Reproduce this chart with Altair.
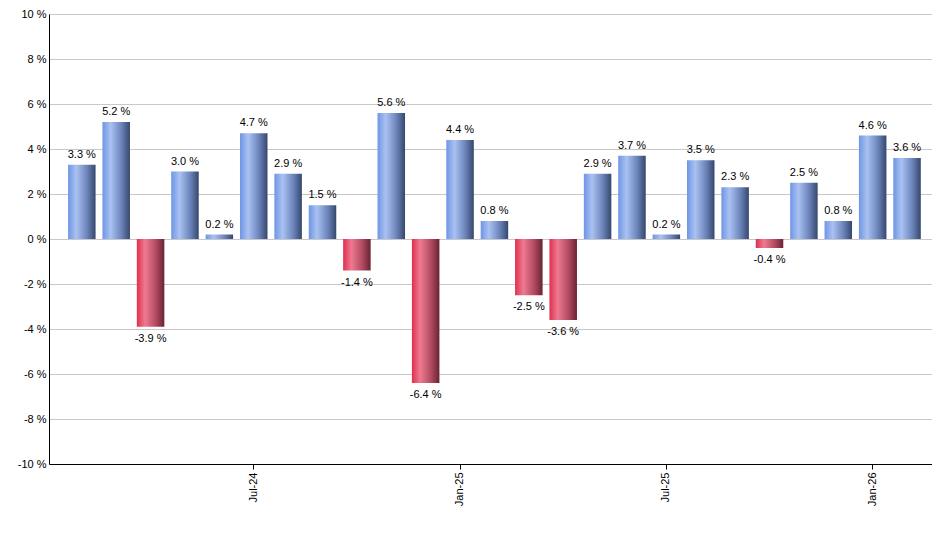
import pandas as pd
import altair as alt

months = ['Feb-24', 'Mar-24', 'Apr-24', 'May-24', 'Jun-24', 'Jul-24', 'Aug-24',
          'Sep-24', 'Oct-24', 'Nov-24', 'Dec-24', 'Jan-25', 'Feb-25', 'Mar-25',
          'Apr-25', 'May-25', 'Jun-25', 'Jul-25', 'Aug-25', 'Sep-25', 'Oct-25',
          'Nov-25', 'Dec-25', 'Jan-26', 'Feb-26']
returns = [3.3, 5.2, -3.9, 3.0, 0.2, 4.7, 2.9, 1.5, -1.4, 5.6, -6.4, 4.4, 0.8,
           -2.5, -3.6, 2.9, 3.7, 0.2, 3.5, 2.3, -0.4, 2.5, 0.8, 4.6, 3.6]
tick_months = ['Jul-24', 'Jan-25', 'Jul-25', 'Jan-26']
y_ticks = [-10, -8, -6, -4, -2, 0, 2, 4, 6, 8, 10]

df = pd.DataFrame({'Month': months, 'Return': returns})
df['Label'] = df['Return'].map(lambda v: f"{v:.1f} %")

blue = alt.Gradient(gradient='linear', x1=0, x2=1, y1=0, y2=0, stops=[
    alt.GradientStop(color='#6f95e4', offset=0),
    alt.GradientStop(color='#a9c2f2', offset=0.3),
    alt.GradientStop(color='#6a82b8', offset=0.7),
    alt.GradientStop(color='#35476c', offset=1)])
red = alt.Gradient(gradient='linear', x1=0, x2=1, y1=0, y2=0, stops=[
    alt.GradientStop(color='#df2f50', offset=0),
    alt.GradientStop(color='#ef7a90', offset=0.3),
    alt.GradientStop(color='#b04a60', offset=0.7),
    alt.GradientStop(color='#6a2234', offset=1)])

x = alt.X('Month:O', sort=months, title=None,
          scale=alt.Scale(paddingInner=0.2, paddingOuter=0.44, align=0.63),
          axis=alt.Axis(values=tick_months, labelAngle=270, grid=False,
                        domainColor='black', tickColor='black', tickSize=5,
                        labelFont='Liberation Sans', labelFontSize=11,
                        labelColor='black', labelPadding=3))
y = alt.Y('Return:Q', title=None,
          scale=alt.Scale(domain=[-10, 10], nice=False),
          axis=alt.Axis(values=y_ticks, labelExpr="datum.value + ' %'",
                        ticks=False, domainColor='black', gridColor='#c8c8c8',
                        labelFont='Liberation Sans', labelFontSize=11,
                        labelColor='black', labelPadding=3))

base = alt.Chart(df)

pos_bars = base.mark_bar(color=blue).encode(x=x, y=y, y2=alt.datum(0)).transform_filter('datum.Return >= 0')
neg_bars = base.mark_bar(color=red).encode(x=x, y=y, y2=alt.datum(0)).transform_filter('datum.Return < 0')

pos_text = base.mark_text(baseline='bottom', dy=-5, font='Liberation Sans',
                          fontSize=11, color='black').encode(
    x=x, y=y, text='Label:N').transform_filter('datum.Return >= 0')
neg_text = base.mark_text(baseline='top', dy=6, font='Liberation Sans',
                          fontSize=11, color='black').encode(
    x=x, y=y, text='Label:N').transform_filter('datum.Return < 0')

chart = (pos_bars + neg_bars + pos_text + neg_text).properties(
    width=883, height=450,
    autosize=alt.AutoSizeParams(type='none'),
    padding={'left': 41, 'top': 6, 'right': 0, 'bottom': 70},
).configure_view(stroke=None).configure(background='white')

chart.save("out.html", embed_options={"renderer": "svg", "actions": False})
